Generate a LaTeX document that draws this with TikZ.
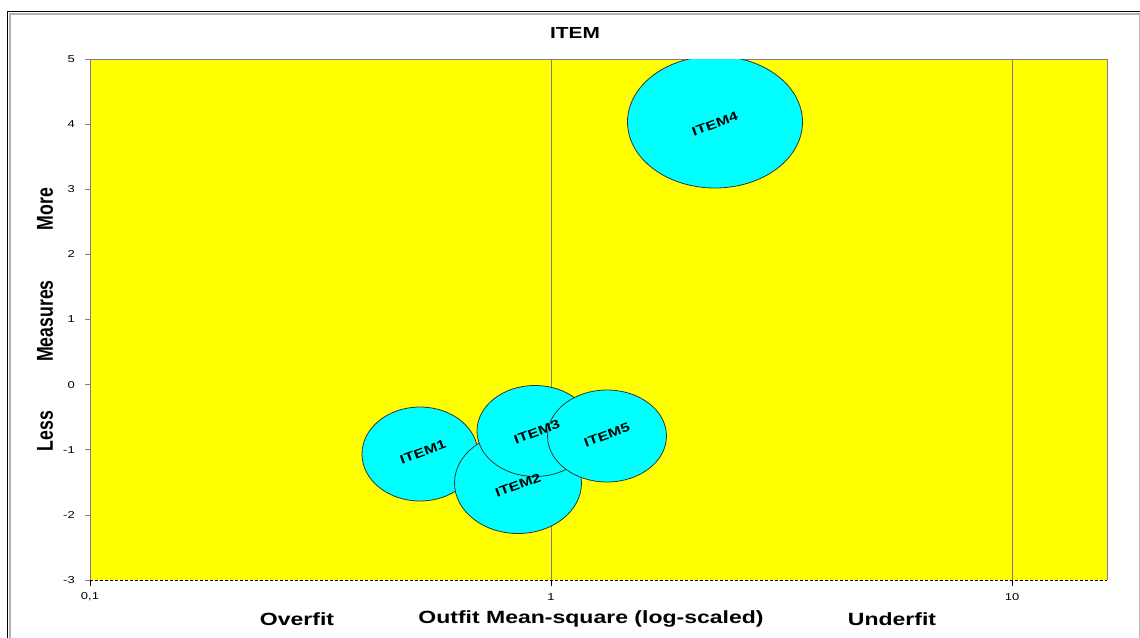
\documentclass[tikz,border=0pt]{standalone}
\usepackage{fontspec}
\setmainfont{Liberation Sans}
\usetikzlibrary{shapes.geometric}
\definecolor{plotyellow}{RGB}{255,255,0}
\definecolor{bubblecyan}{RGB}{0,255,255}
\definecolor{gridgray}{RGB}{128,128,128}
\newcommand{\wide}[1]{\scalebox{1.3}[1]{#1}}
\newcommand{\tall}[1]{\scalebox{1}[1.3]{#1}}

\begin{document}
\begin{tikzpicture}[x=1pt,y=-1pt,
  bubble/.style={ellipse,draw=black!80,fill=bubblecyan,inner sep=0pt,line width=0.8pt},
  item label/.style={font=\bfseries\fontsize{12.5}{12.5}\selectfont,rotate=20,inner sep=0pt},
  tick label/.style={font=\fontsize{10}{10}\selectfont,inner sep=0pt},
  axis title/.style={font=\bfseries\fontsize{17.7}{17.7}\selectfont,inner sep=0pt}]

  \useasboundingbox (0,0) rectangle (1140,637);
  % frame
  \draw[black,line width=1.5pt] (7.5,660) -- (7.5,11.5) -- (1140,11.5);
  \draw[black!30,line width=1.5pt] (10,660) -- (10,13.8) -- (1140,13.8);
  \draw[black!25] (1139,13.8) -- (1139,660);

  % plot area
  \fill[plotyellow] (90,59) rectangle (1107,580);
  \draw[gridgray,line width=0.8pt] (90,580) -- (90,59) -- (1107,59) -- (1107,580);
  \draw[gridgray,line width=0.8pt] (551,59) -- (551,580) (1012,59) -- (1012,580);
  \draw[densely dashed,line width=0.8pt] (90,580) -- (1107,580);
  \draw[gridgray,line width=0.8pt] (85,59) -- (90,59) (85,124.1) -- (90,124.1)
    (85,189.3) -- (90,189.3) (85,254.4) -- (90,254.4) (85,319.5) -- (90,319.5)
    (85,384.6) -- (90,384.6) (85,449.8) -- (90,449.8) (85,514.9) -- (90,514.9)
    (85,580) -- (90,580);
  \draw[line width=0.8pt] (90,580) -- (90,586) (551,580) -- (551,586)
    (1012,580) -- (1012,586);

  % tick labels
  \node[tick label,anchor=east] (y5) at (75,59) {\wide{5}};
  \node[tick label,anchor=east] (y4) at (75,124.1) {\wide{4}};
  \node[tick label,anchor=east] (y3) at (75,189.3) {\wide{3}};
  \node[tick label,anchor=east] (y2) at (75,254.4) {\wide{2}};
  \node[tick label,anchor=east] (y1) at (75,319.5) {\wide{1}};
  \node[tick label,anchor=east] (y0) at (75,384.6) {\wide{0}};
  \node[tick label,anchor=east] (ym1) at (75,449.8) {\wide{-1}};
  \node[tick label,anchor=east] (ym2) at (75,514.9) {\wide{-2}};
  \node[tick label,anchor=east] (ym3) at (75,580) {\wide{-3}};
  \node[tick label] (x01) at (90,597) {\wide{0,1}};
  \node[tick label] (x1) at (551,597) {\wide{1}};
  \node[tick label] (x10) at (1012,597) {\wide{10}};

  % bubbles
  \begin{scope}
    \clip (90,59) rectangle (1107,580);
    \node[bubble,minimum width=116pt,minimum height=94pt] (item1) at (420,454) {};
    \node[bubble,minimum width=127pt,minimum height=101pt] (item2) at (518,483) {};
    \node[bubble,minimum width=116pt,minimum height=91pt] (item3) at (535,431) {};
    \node[bubble,minimum width=119pt,minimum height=92pt] (item5) at (607,436) {};
    \node[bubble,minimum width=175pt,minimum height=132pt] (item4) at (715,122) {};
  \end{scope}
  \node[item label] (item1 text) at (423,452) {\wide{ITEM1}};
  \node[item label] (item2 text) at (518,485) {\wide{ITEM2}};
  \node[item label] (item3 text) at (537,432) {\wide{ITEM3}};
  \node[item label] (item5 text) at (607,435) {\wide{ITEM5}};
  \node[item label] (item4 text) at (715,124) {\wide{ITEM4}};

  % titles
  \node[axis title,font=\bfseries\fontsize{16}{16}\selectfont] (title) at (575,33) {\wide{ITEM}};
  \node[axis title] (overfit) at (297,619) {\wide{Overfit}};
  \node[axis title] (outfit) at (591,619) {\wide{Outfit Mean-square (log-scaled)}};
  \node[axis title] (underfit) at (892,619) {\wide{Underfit}};
  \node[axis title,rotate=90] (more) at (45,209) {\tall{More}};
  \node[axis title,rotate=90] (measures) at (45,321) {\tall{Measures}};
  \node[axis title,rotate=90] (less) at (45,431) {\tall{Less}};
\end{tikzpicture}
\end{document}
